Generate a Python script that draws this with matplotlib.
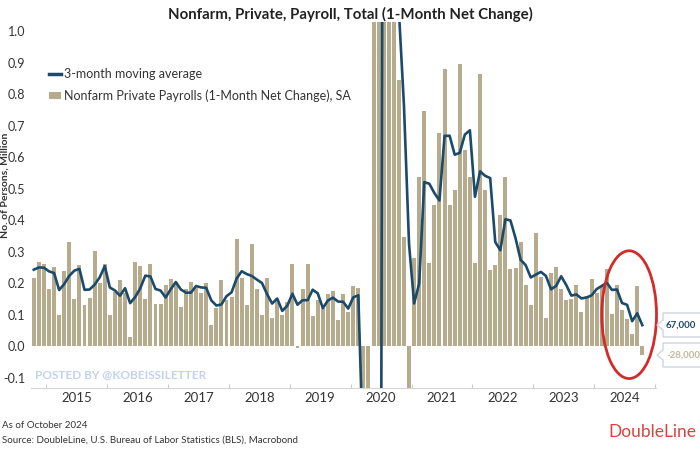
import numpy as np
import pandas as pd
import matplotlib
matplotlib.use("Agg")
import matplotlib.pyplot as plt
from matplotlib.lines import Line2D
from matplotlib.patches import Patch, Ellipse, Polygon

plt.rcParams['font.family'] = ['Lato', 'DejaVu Sans']

# ---------------- data ----------------
title = "Nonfarm, Private, Payroll, Total (1-Month Net Change)"
line_label = "3-month moving average"
bar_label = "Nonfarm Private Payrolls (1-Month Net Change), SA"
ylabel = "No. of Persons, Million"
year_labels = ["2015", "2016", "2017", "2018", "2019", "2020", "2021", "2022", "2023", "2024"]
ytick_values = [-0.1, 0.0, 0.1, 0.2, 0.3, 0.4, 0.5, 0.6, 0.7, 0.8, 0.9, 1.0]
start_month = -3  # Oct 2014, months relative to Jan 2015

# Aug, Sep 2014 (only used for the moving average at the start)
lead_values = [0.247, 0.264]
# Oct 2014 .. Oct 2024, millions
payrolls = [
    0.218, 0.268, 0.262,
    0.183, 0.252, 0.100, 0.240, 0.330, 0.150, 0.257, 0.130, 0.153, 0.303, 0.200, 0.260,
    0.099, 0.172, 0.210, 0.170, 0.030, 0.268, 0.254, 0.150, 0.260, 0.135, 0.135, 0.194,
    0.213, 0.204, 0.123, 0.183, 0.204, 0.186, 0.170, 0.200, 0.067, 0.120, 0.210, 0.146,
    0.157, 0.342, 0.215, 0.130, 0.324, 0.180, 0.098, 0.218, 0.090, 0.146, 0.100, 0.140,
    0.260, -0.005, 0.183, 0.260, 0.095, 0.148, 0.120, 0.167, 0.175, 0.083, 0.165, 0.110,
    0.190, 0.185, -1.500, -19.800, 3.300, 4.600, 1.600, 1.250, 1.100, 0.845, 0.347, -0.220,
    0.280, 0.537, 0.747, 0.264, 0.448, 0.676, 0.880, 0.450, 0.495, 0.897, 0.624, 0.537,
    0.263, 0.866, 0.495, 0.241, 0.257, 0.416, 0.537, 0.245, 0.247, 0.331, 0.194, 0.130,
    0.358, 0.220, 0.091, 0.231, 0.252, 0.183, 0.148, 0.151, 0.194, 0.110, 0.160, 0.214,
    0.170, 0.190, 0.244, 0.102, 0.194, 0.115, 0.085, 0.038, 0.190, -0.028,
]
last_line_label = "67,000"
last_bar_label = "-28,000"

# ---------------- styling ----------------
BAR = '#b7ab8e'
NAVY = '#1b4a6b'
TXT = '#333333'

fig = plt.figure(figsize=(7, 4.5), dpi=100)
W, H = 700, 450
ax = fig.add_axes([31 / W, 62 / H, 625 / W, 366 / H])

x = np.arange(len(payrolls)) + start_month + 0.5
ma = pd.Series(lead_values + payrolls).rolling(3).mean().iloc[len(lead_values):].to_numpy()

ax.bar(x, payrolls, width=0.78, color=BAR, zorder=2, label=bar_label)
ax.plot(x, ma, color=NAVY, lw=1.9, zorder=3, label=line_label)

ax.set_xlim(-3.05, 120.2)
ax.set_ylim(-0.133, 1.03)

ax.set_yticks(ytick_values)
ax.set_yticklabels([f"{v:.1f}" for v in ytick_values], fontsize=9, color=TXT)
ax.tick_params(axis='y', length=0, pad=4)

ax.set_xticks(np.arange(0, 121, 12))
ax.set_xticklabels([])
ax.set_xticks(np.arange(6, 120, 12), minor=True)
ax.set_xticklabels(year_labels, minor=True, fontsize=9.5, color=TXT)
ax.tick_params(axis='x', which='major', direction='in', length=3, color='#cccccc')
ax.tick_params(axis='x', which='minor', length=0, pad=3)

for s in ['top', 'right', 'left']:
    ax.spines[s].set_visible(False)
ax.spines['bottom'].set_color('#d5d5d5')

# legend
handles = [Line2D([0], [0], color=NAVY, lw=2.5),
           Patch(facecolor=BAR, edgecolor='none')]
leg = fig.legend(handles, [line_label, bar_label], loc='upper left',
                 bbox_to_anchor=(38 / W, 1 - 57 / H), frameon=False,
                 fontsize=9, handlelength=0.9, handleheight=0.5,
                 handletextpad=0.3, labelspacing=0.75, labelcolor=TXT)

# red ellipse
ell = Ellipse((114.9, 0.10), 10.8, 0.406, fill=False, edgecolor='#d42a2a',
              lw=2, clip_on=False, zorder=5)
ax.add_patch(ell)

# title
fig.text(0.5, 1 - 14 / H, title, ha='center', va='center', fontsize=10.8,
         fontweight='bold', color='#222222')

# y label
fig.text(5 / W, 1 - 185 / H, ylabel, rotation=90, ha='center', va='center',
         fontsize=7.5, fontweight='bold', color=TXT)

# watermark
fig.text(35 / W, 1 - 375 / H, "POSTED BY @KOBEISSILETTER", ha='left', va='center',
         fontsize=8.5, fontweight='bold', color='#c3d2ee')

# value callouts at the right
def callout(yc, text, color):
    top, bot = yc - 12, yc + 12
    pts = [(720, top), (663, top), (663, yc - 5), (657, yc), (663, yc + 5),
           (663, bot), (720, bot)]
    pts = [(px / W, 1 - py / H) for px, py in pts]
    fig.patches.append(Polygon(pts, closed=True, facecolor='white',
                               edgecolor='#cfd6de', lw=1, transform=fig.transFigure,
                               figure=fig))
    fig.text(666 / W, 1 - yc / H, text, ha='left', va='center', fontsize=7,
             fontweight='bold', color=color)

callout(325, last_line_label, NAVY)
callout(355, last_bar_label, '#c2b8a0')

# footer
fig.text(2 / W, 1 - 425 / H, "As of October 2024", ha='left', va='center',
         fontsize=7, color=TXT)
fig.text(2 / W, 1 - 440 / H,
         "Source: DoubleLine, U.S. Bureau of Labor Statistics (BLS), Macrobond",
         ha='left', va='center', fontsize=7, color=TXT)
fig.text(696 / W, 1 - 432 / H, "DoubleLine", ha='right', va='center',
         fontsize=12.5, color='#d9453d')

fig.savefig("out.png", dpi=100)
